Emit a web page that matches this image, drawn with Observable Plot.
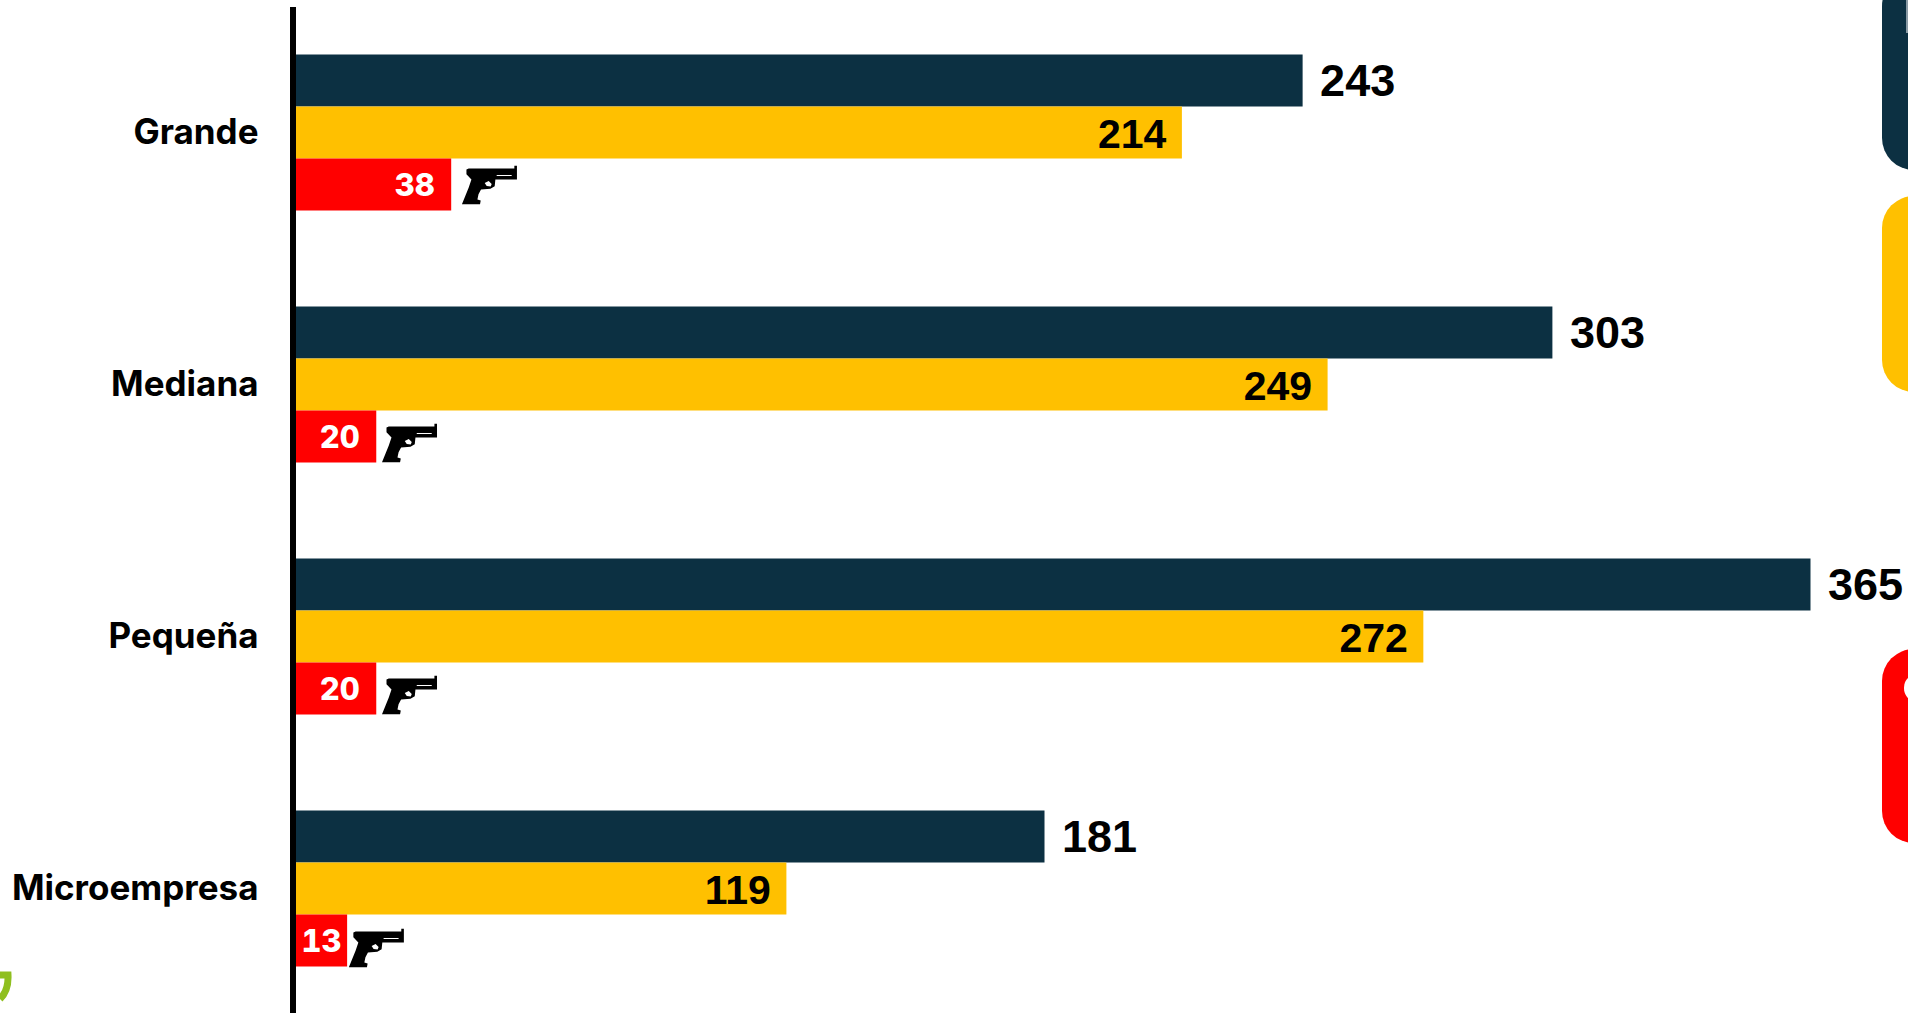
<!DOCTYPE html>
<html><head><meta charset="utf-8">
<script src="https://cdn.jsdelivr.net/npm/d3@7"></script>
<script src="https://cdn.jsdelivr.net/npm/@observablehq/plot@0.6"></script>
<style>html,body{margin:0;padding:0;background:#fff;overflow:hidden}svg{display:block}</style>
</head><body><div id="chart"></div>
<script>
const categories = ["Grande", "Mediana", "Pequeña", "Microempresa"];
const series = ["Azul", "Amarillo", "Rojo"];
const azul = [243, 303, 365, 181];
const amarillo = [214, 249, 272, 119];
const rojo = [38, 20, 20, 13];
const colors = ["#0c3042", "#ffc000", "#ff0000"];

const rows = categories.flatMap((c, i) => [
  {cat: c, s: series[0], v: azul[i]},
  {cat: c, s: series[1], v: amarillo[i]},
  {cat: c, s: series[2], v: rojo[i]}
]);
const rowsOf = s => rows.filter(d => d.s === s);

// Handgun pictogram, centred on 0,0 (55 wide x 38 tall at scale 1)
const gun = {draw(ctx, size) {
  const k = Math.sqrt(size) / 38;
  const poly = P => { P.forEach(([x,y],i)=> i? ctx.lineTo(x*k,y*k): ctx.moveTo(x*k,y*k)); ctx.closePath(); };
  poly([[27.3,-19.2],[27.3,-5.5],[5.7,-5.5],[5,1.2],[0.7,3.8],[-8.7,4.5],[-11.2,9.2],[-12.3,14.5],[-9,15.5],[-9.7,19.2],[-27.8,19.2],[-21,2.5],[-18.3,-5.5],[-23.3,-10.8],[-23.3,-15.5],[-21,-16.5],[24.7,-16.5],[24.7,-19.2]]);
  poly([[7,-10],[7,-9],[22,-9],[22,-10]]);
  poly([[-5,-2],[-3,1],[1,1.5],[2,-1],[-1,-4]]);
}};
const gunNudge = [{dx:40,dy:0},{dx:35,dy:6},{dx:35,dy:6},{dx:31,dy:7}];
const redNudge = [-15,-15,-15,-4];
const font = "Inter, sans-serif";
const numFont = "'Liberation Sans', Arial, sans-serif";

const plot = Plot.plot({
  width: 1908, height: 1017,
  marginLeft: 291, marginRight: 1908-1810.5, marginTop: 53.5, marginBottom: 50,
  style: {fontFamily: font, background: "#fff"},
  x: {domain: [0, 365], axis: null},
  fy: {domain: categories, paddingInner: 0.3786, paddingOuter: 0, label: null},
  y: {domain: series, padding: 0, axis: null},
  marks: [
    Plot.axisFy({anchor:"left", tickSize:0, tickPadding: 33, fontSize:35, fontWeight:700, fill:"#000", label:null}),
    Plot.barX(rows.filter(d=>d.s!==series[2]), {x:"v", y:"s", fy:"cat", fill: d => colors[series.indexOf(d.s)]}),
    Plot.barX(rowsOf(series[2]), {x:"v", y:"s", fy:"cat", fill: colors[2], insetRight:-2}),
    Plot.text(rowsOf(series[0]), {x:"v", y:"s", fy:"cat", text:"v", textAnchor:"start", dx:17, dy:1, fontFamily:numFont, fontSize:45, fontWeight:700, fill:"#000"}),
    Plot.text(rowsOf(series[1]), {x:"v", y:"s", fy:"cat", text:"v", textAnchor:"end", dx:-16, dy:2, fontFamily:numFont, fontSize:41, fontWeight:700, fill:"#000"}),
    ...categories.flatMap((c,i)=>{
      const d = rowsOf(series[2]).filter(r=>r.cat===c);
      return [
        Plot.text(d, {x:"v", y:"s", fy:"cat", text:"v", textAnchor:"end", dx:redNudge[i], dy:1, fontSize:31, fontWeight:800, fill:"#fff"}),
        Plot.dot(d, {x:"v", y:"s", fy:"cat", symbol:gun, r:21.4, fill:"#000", stroke:"none", dx:gunNudge[i].dx, dy:gunNudge[i].dy})
      ];
    })
  ]
});
const svg = d3.select(plot);
// Axis line at x = 0, running past the plot frame
const x0 = plot.scale("x").apply(0);
svg.append("line").attr("x1",x0+2).attr("x2",x0+2).attr("y1",7).attr("y2",1013).attr("stroke","#000").attr("stroke-width",6);
// Clipped side panels of the original slide
[[-26,170,colors[0]],[196,392,colors[1]],[649,843,colors[2]]].forEach(([a,b,c])=>{
  svg.append("rect").attr("x",1882).attr("y",a).attr("width",120).attr("height",b-a).attr("rx",32).attr("fill",c);
});
svg.append("rect").attr("x",1906).attr("y",0).attr("width",2).attr("height",33).attr("fill","#8a9aa4");
svg.append("ellipse").attr("cx",1915).attr("cy",688).attr("rx",11).attr("ry",13).attr("fill","#fff");
svg.append("path").attr("d","M0,975 L8,975 C8.5,985 5,994 0,999").attr("fill","none").attr("stroke","#8fbf1f").attr("stroke-width",7);
document.getElementById("chart").append(plot);
</script></body></html>
